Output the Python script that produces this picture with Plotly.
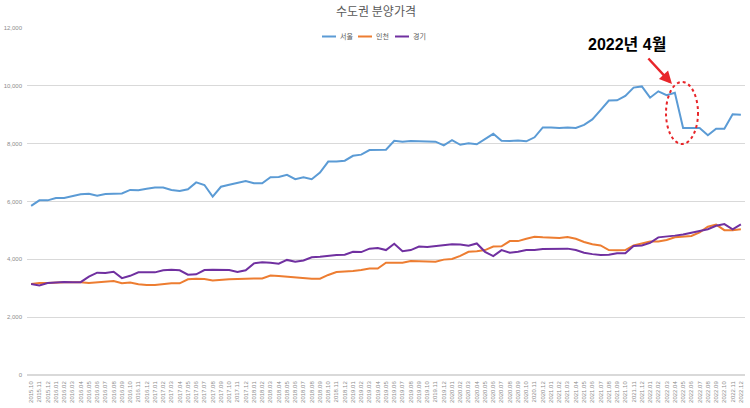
import plotly.graph_objects as go

months = [f"{y}.{m:02d}" for y in range(2015, 2023) for m in range(1, 13)]
months = months[months.index("2015.10"):months.index("2022.12") + 1]

seoul = [5850, 6040, 6040, 6120, 6120, 6190, 6250, 6270, 6200, 6260,
         6280, 6280, 6400, 6390, 6440, 6480, 6480, 6400, 6360, 6420,
         6660, 6570, 6170, 6510, 6580, 6650, 6710, 6630, 6630, 6840,
         6850, 6920, 6770, 6840, 6770, 7000, 7380, 7380, 7410, 7580,
         7620, 7780, 7780, 7790, 8100, 8070, 8090, 8090, 8090, 8070,
         7940, 8120, 7960, 8010, 7980, 8170, 8340, 8100, 8090, 8110,
         8080, 8220, 8560, 8560, 8540, 8560, 8540, 8650, 8840, 9160,
         9490, 9500, 9650, 9940, 9980, 9590, 9810, 9680, 9760, 8540,
         8540, 8540, 8290, 8520, 8520, 9020, 9000]

incheon = [3150, 3180, 3180, 3200, 3210, 3210, 3210, 3180, 3210, 3230,
           3250, 3170, 3200, 3140, 3110, 3110, 3150, 3170, 3170, 3310,
           3330, 3320, 3270, 3300, 3310, 3320, 3340, 3340, 3340, 3440,
           3420, 3400, 3360, 3350, 3330, 3330, 3460, 3560, 3570, 3600,
           3630, 3680, 3680, 3880, 3880, 3880, 3940, 3940, 3940, 3920,
           3990, 4010, 4120, 4260, 4280, 4320, 4440, 4450, 4630, 4630,
           4710, 4780, 4760, 4740, 4740, 4770, 4710, 4600, 4520, 4480,
           4320, 4310, 4320, 4480, 4560, 4620, 4620, 4670, 4760, 4780,
           4810, 4930, 5130, 5200, 5010, 5010, 5040]

gyeonggi = [3150, 3100, 3180, 3200, 3220, 3210, 3210, 3400, 3540, 3530,
            3570, 3350, 3430, 3550, 3550, 3550, 3620, 3640, 3620, 3470,
            3480, 3630, 3640, 3630, 3630, 3560, 3620, 3860, 3900, 3880,
            3850, 3980, 3920, 3960, 4070, 4090, 4130, 4150, 4160, 4260,
            4250, 4370, 4390, 4320, 4540, 4280, 4320, 4440, 4430, 4460,
            4510, 4520, 4510, 4470, 4550, 4260, 4110, 4320, 4230, 4260,
            4320, 4320, 4360, 4370, 4370, 4370, 4320, 4230, 4180, 4150,
            4160, 4210, 4210, 4460, 4480, 4570, 4760, 4780, 4820, 4860,
            4920, 4960, 5040, 5160, 5220, 5040, 5210]

series_names = ["서울", "인천", "경기"]
series_colors = ["#5B9BD5", "#ED7D31", "#7030A0"]
series_values = [seoul, incheon, gyeonggi]

yticks = list(range(0, 12001, 2000))

W, H = 750, 408
PL, PR, PT, PB = 27, 745, 28, 375
PW, PH = PR - PL, PB - PT
def px(x):
    return (x - PL) / PW
def py(y):
    return (PB - y) / PH

fig = go.Figure()
for name, vals, col in zip(series_names, series_values, series_colors):
    fig.add_trace(go.Scatter(x=months, y=vals, name=name, mode="lines",
                             line=dict(color=col, width=2), showlegend=False))

fig.update_layout(
    width=W, height=H,
    margin=dict(l=PL, r=W - PR, t=PT, b=H - PB, pad=0),
    paper_bgcolor="white", plot_bgcolor="white",
    font=dict(family="Liberation Sans, Noto Sans CJK KR", color="#595959"),
    title=dict(text="수도권 분양가격", x=376 / W, xanchor="center",
               y=1 - 11.5 / H, yanchor="middle",
               font=dict(size=12, color="#595959", family="Noto Sans CJK KR")),
    showlegend=False,
)
fig.update_xaxes(type="category", tickmode="array", tickvals=months, ticktext=months,
                 tickangle=-90, tickfont=dict(size=6, color="#8c8c8c"),
                 showgrid=False, showline=False, ticks="", automargin=False,
                 ticklabelstandoff=4, range=[-0.5, len(months) - 0.5])
fig.update_yaxes(range=[0, 12000], tickvals=yticks, tickformat=",",
                 tickfont=dict(size=6, color="#8c8c8c"), gridcolor="#d9d9d9",
                 gridwidth=1, zeroline=True, zerolinecolor="#d9d9d9", showline=False,
                 ticks="", automargin=False, ticklabelstandoff=4)

# custom legend (swatch + label)
legend_x = [322, 358, 395]
for lx, name, col in zip(legend_x, series_names, series_colors):
    fig.add_shape(type="line", xref="paper", yref="paper",
                  x0=px(lx), x1=px(lx + 14), y0=py(36.5), y1=py(36.5),
                  line=dict(color=col, width=2))
    fig.add_annotation(xref="paper", yref="paper", x=px(lx + 16), y=py(36.5),
                       text=name, showarrow=False, xanchor="left", yanchor="middle",
                       font=dict(size=7, color="#595959", family="Noto Sans CJK KR"))

# callout: text, arrow, dotted ellipse
fig.add_annotation(xref="paper", yref="paper", x=px(627), y=py(45),
                   xanchor="center", yanchor="middle",
                   text="<b>2022년 4월</b>", showarrow=False,
                   font=dict(size=16, color="black", family="Liberation Sans, Noto Sans CJK KR"))
fig.add_annotation(xref="paper", yref="paper", axref="pixel", ayref="pixel",
                   x=px(672), y=py(84), ax=-25, ay=-27,
                   showarrow=True, arrowhead=2, arrowsize=1, arrowwidth=2.5,
                   arrowcolor="#e8262a", text="")
fig.add_shape(type="circle", xref="paper", yref="paper",
              x0=px(666), x1=px(698), y0=py(144), y1=py(82),
              line=dict(color="#e8262a", width=2, dash="dot"))

fig.write_html("out.html", config={"displayModeBar": False},
               post_script="document.body.style.margin='0';")
